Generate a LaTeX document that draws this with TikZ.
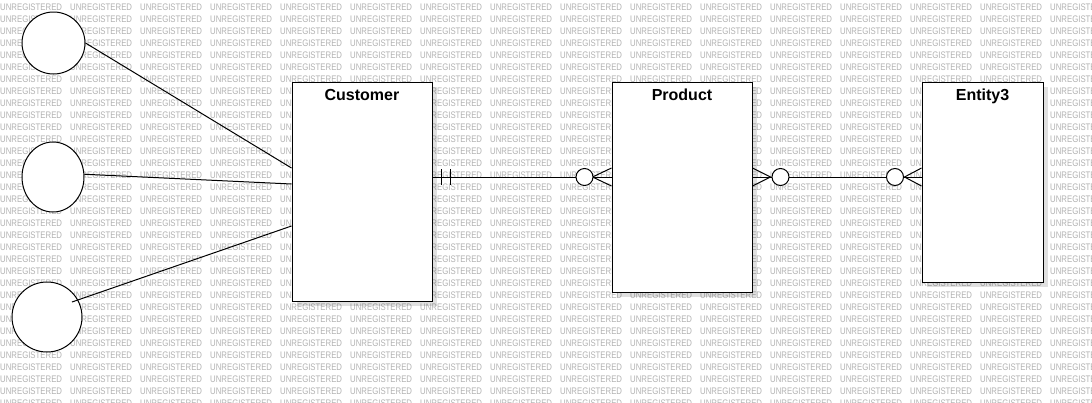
\documentclass[tikz,border=0pt]{standalone}
\usepackage{fontspec}
\setmainfont{Liberation Sans}
\newfontfamily\wmfont[FakeStretch=0.82]{Liberation Sans}
\usetikzlibrary{shapes.geometric,shadows,calc}

\tikzstyle{erentity}=[rectangle,
                      draw,
                      fill=white,
                      line width=1pt,
                      drop shadow={shadow xshift=5pt,shadow yshift=-5pt,fill=black,opacity=.12}]
\tikzstyle{ertitle}=[anchor=north,
                     yshift=-4pt,
                     font=\fontsize{16}{18}\selectfont\bfseries]
\tikzstyle{erattr}=[ellipse,
                    draw,
                    fill=white,
                    line width=1pt,
                    inner sep=0pt]
\tikzstyle{eropt}=[circle,
                   draw,
                   fill=white,
                   line width=1pt,
                   inner sep=0pt,
                   minimum size=17pt]
\tikzstyle{erlink}=[line width=1pt]
\tikzstyle{wmark}=[anchor=base west,
                   inner sep=0pt,
                   text=black!30,
                   font=\wmfont\fontsize{9.5}{9.5}\selectfont]

\begin{document}
\begin{tikzpicture}[x=1pt,y=-1pt]
    \useasboundingbox (0,0) rectangle (1092,402);
    \fill [white] (0,0) rectangle (1092,402);
    % watermark
    \begin{scope}
        \clip (0,0) rectangle (1092,402);
        \foreach \j in {0,...,33}
            \foreach \i in {0,...,15}
                \node [wmark] (wm-\i-\j) at (70*\i,10.5+12*\j) {UNREGISTERED};
    \end{scope}

    % entities
    \node [erentity, minimum width=140pt, minimum height=219pt] (customer) at (362,191.5) {};
    \node [ertitle] (customerTitle) at (customer.north) {Customer};
    \node [erentity, minimum width=140pt, minimum height=210pt] (product) at (682,187) {};
    \node [ertitle] (productTitle) at (product.north) {Product};
    \node [erentity, minimum width=121pt, minimum height=200pt] (entity3) at (982.5,182) {};
    \node [ertitle] (entity3Title) at (entity3.north) {Entity3};

    % attributes
    \node [erattr, minimum width=63pt, minimum height=62pt] (attrA) at (53.5,43) {};
    \node [erattr, minimum width=62pt, minimum height=70pt] (attrB) at (53,177) {};
    \node [erattr, minimum width=70pt, minimum height=70pt] (attrC) at (47,317) {};
    \draw [erlink] (attrA.east) -- ([yshift=23.5pt]customer.west);
    \draw [erlink] (attrB.5) -- ([yshift=7.5pt]customer.west);
    \draw [erlink] ($(attrC.center)+(25,-15)$) -- ([yshift=-34.5pt]customer.west);

    % relationships
    \coordinate (row) at (0,177);
    \draw [erlink] (customer.east |- row) -- (product.west |- row);
    \draw [erlink] (product.east |- row) -- (entity3.west |- row);
    % customer: one and only one
    \draw [erlink] ($(customer.east |- row)+(9,-8)$) -- ($(customer.east |- row)+(9,8)$);
    \draw [erlink] ($(customer.east |- row)+(18,-8)$) -- ($(customer.east |- row)+(18,8)$);
    % product: zero or many
    \draw [erlink] ($(product.west |- row)+(0,-9)$) -- ($(product.west |- row)+(-19,0)$) -- ($(product.west |- row)+(0,9)$);
    \node [eropt] (optCustomer) at ($(product.west |- row)+(-27,0)$) {};
    \draw [erlink] ($(product.east |- row)+(0,-9)$) -- ($(product.east |- row)+(18,0)$) -- ($(product.east |- row)+(0,9)$);
    \node [eropt] (optProduct) at ($(product.east |- row)+(28,0)$) {};
    % entity3: zero or many
    \draw [erlink] ($(entity3.west |- row)+(0,-9)$) -- ($(entity3.west |- row)+(-17,0)$) -- ($(entity3.west |- row)+(0,9)$);
    \node [eropt] (optEntity3) at ($(entity3.west |- row)+(-26.5,0)$) {};
\end{tikzpicture}
\end{document}
